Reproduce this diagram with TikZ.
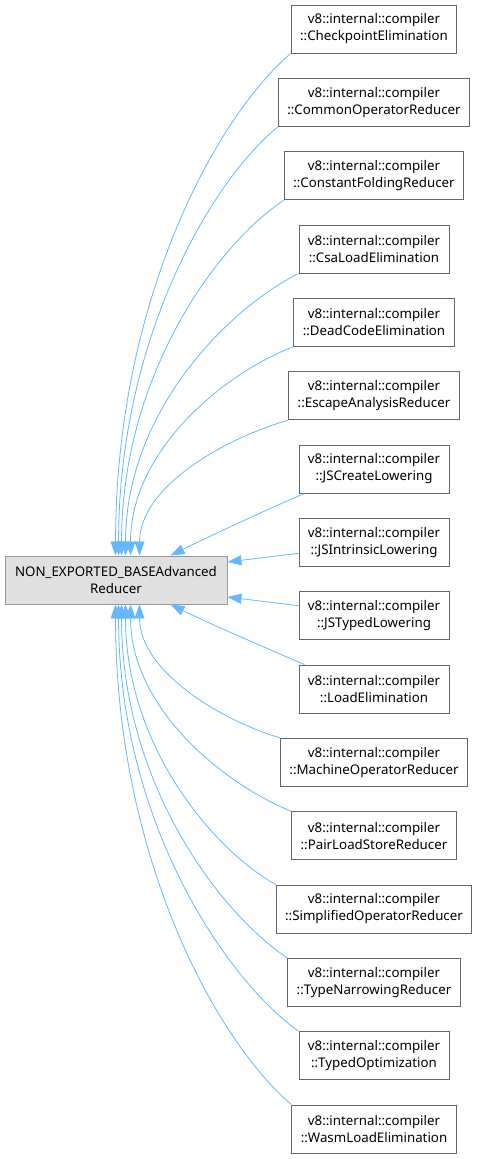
\documentclass[tikz,border=0pt]{standalone}
\usepackage{fontspec}
\setmainfont{Noto Sans}
\usetikzlibrary{arrows.meta}
\definecolor{edgeblue}{HTML}{63B8FF}
\definecolor{boxgray}{HTML}{666666}
\definecolor{basegray}{HTML}{999999}
\definecolor{basefill}{HTML}{E0E0E0}

\begin{document}
\begin{tikzpicture}[
    x=1pt, y=-1pt,
    every node/.style={font=\fontsize{13.3}{17}\selectfont},
    derived/.style={rectangle, draw=boxgray, fill=white, line width=0.9pt, align=center, minimum height=48pt, inner xsep=9pt},
    base/.style={rectangle, draw=basegray, fill=basefill, line width=0.9pt, align=center, minimum width=222pt, minimum height=48pt},
    inherit/.style={draw=edgeblue, line width=0.8pt, -{Triangle[length=14pt, width=10pt]}}
]
    \useasboundingbox (0,0) rectangle (478,1159);

    % Base class
    \node[base] (base) at (116,580) {NON\_EXPORTED\_BASEAdvanced\\Reducer};

    % Derived classes
    \node[derived] (r1) at (374,29) {v8::internal::compiler\\::CheckpointElimination};
    \node[derived] (r2) at (374,102.3) {v8::internal::compiler\\::CommonOperatorReducer};
    \node[derived] (r3) at (374,175.7) {v8::internal::compiler\\::ConstantFoldingReducer};
    \node[derived] (r4) at (374,249) {v8::internal::compiler\\::CsaLoadElimination};
    \node[derived] (r5) at (374,322.3) {v8::internal::compiler\\::DeadCodeElimination};
    \node[derived] (r6) at (374,395.7) {v8::internal::compiler\\::EscapeAnalysisReducer};
    \node[derived] (r7) at (374,469) {v8::internal::compiler\\::JSCreateLowering};
    \node[derived] (r8) at (374,542.3) {v8::internal::compiler\\::JSIntrinsicLowering};
    \node[derived] (r9) at (374,615.7) {v8::internal::compiler\\::JSTypedLowering};
    \node[derived] (r10) at (374,689) {v8::internal::compiler\\::LoadElimination};
    \node[derived] (r11) at (374,762.3) {v8::internal::compiler\\::MachineOperatorReducer};
    \node[derived] (r12) at (374,835.7) {v8::internal::compiler\\::PairLoadStoreReducer};
    \node[derived] (r13) at (374,909) {v8::internal::compiler\\::SimplifiedOperatorReducer};
    \node[derived] (r14) at (374,982.3) {v8::internal::compiler\\::TypeNarrowingReducer};
    \node[derived] (r15) at (374,1055.7) {v8::internal::compiler\\::TypedOptimization};
    \node[derived] (r16) at (374,1129) {v8::internal::compiler\\::WasmLoadElimination};

    % Edges, upper half
    \draw[inherit] (r1.south west) .. controls +(-76,65) and +(0,-252) .. ([xshift=111pt]base.north west);
    \draw[inherit] (r2.south west) .. controls +(-68,56) and +(0,-215) .. ([xshift=114pt]base.north west);
    \draw[inherit] (r3.south west) .. controls +(-69,46) and +(0,-178) .. ([xshift=117pt]base.north west);
    \draw[inherit] (r4.south west) .. controls +(-73,37) and +(0,-142) .. ([xshift=121pt]base.north west);
    \draw[inherit] (r5.south west) .. controls +(-70,27) and +(0,-105) .. ([xshift=126pt]base.north west);
    \draw[inherit] (r6.south west) .. controls +(-63,18) and +(0,-69) .. ([xshift=135pt]base.north west);
    \draw[inherit] ([xshift=6pt]r7.south west) .. controls +(-40,17) and +(30,-15) .. ([xshift=166pt]base.north west);
    \draw[inherit] ([yshift=-11pt]r8.west) -- ([yshift=18pt]base.east);

    % Edges, lower half
    \draw[inherit] ([yshift=10pt]r9.west) -- ([yshift=-17pt]base.east);
    \draw[inherit] ([xshift=6pt]r10.north west) .. controls +(-40,-17) and +(30,15) .. ([xshift=166pt]base.south west);
    \draw[inherit] (r11.north west) .. controls +(-58,-17) and +(0,67) .. ([xshift=135pt]base.south west);
    \draw[inherit] (r12.north west) .. controls +(-67,-27) and +(0,104) .. ([xshift=126pt]base.south west);
    \draw[inherit] (r13.north west) .. controls +(-64,-36) and +(0,140) .. ([xshift=121pt]base.south west);
    \draw[inherit] (r14.north west) .. controls +(-69,-46) and +(0,177) .. ([xshift=117pt]base.south west);
    \draw[inherit] (r15.north west) .. controls +(-76,-55) and +(0,213) .. ([xshift=114pt]base.south west);
    \draw[inherit] (r16.north west) .. controls +(-76,-65) and +(0,251) .. ([xshift=111pt]base.south west);
\end{tikzpicture}
\end{document}
